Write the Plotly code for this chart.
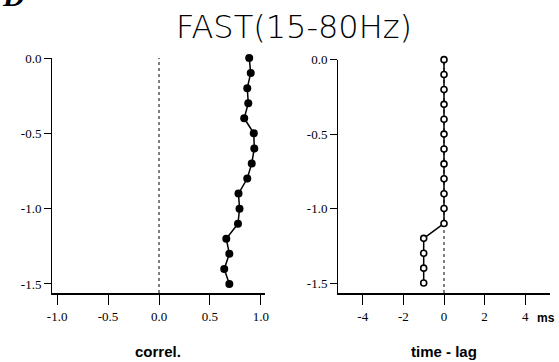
import plotly.graph_objects as go

# ---- data ----
depth = [0.0, -0.1, -0.2, -0.3, -0.4, -0.5, -0.6, -0.7, -0.8, -0.9,
         -1.0, -1.1, -1.2, -1.3, -1.4, -1.5]
correl = [0.885, 0.90, 0.866, 0.876, 0.836, 0.93, 0.935, 0.91, 0.866, 0.78,
          0.79, 0.775, 0.66, 0.69, 0.64, 0.69]
time_lag_ms = [0.0, 0.0, 0.0, 0.0, 0.0, 0.0, 0.0, 0.0, 0.0, 0.0,
               0.0, 0.0, -1.0, -1.0, -1.0, -1.0]

y_tickvals = [0.0, -0.5, -1.0, -1.5]
y_ticktext = ["0.0", "-0.5", "-1.0", "-1.5"]
corr_tickvals = [-1.0, -0.5, 0.0, 0.5, 1.0]
corr_ticktext = ["-1.0", "-0.5", "0.0", "0.5", "1.0"]
lag_tickvals = [-4, -2, 0, 2, 4]
lag_ticktext = ["-4", "-2", "0", "2", "4"]
reference_value = 0.0

title_text = "FAST(15-80Hz)"
panel_label = "D"
corr_label = "correl."
lag_label = "time - lag"
lag_unit = "ms"

# ---- figure ----
fig = go.Figure()

fig.add_trace(go.Scatter(
    x=correl, y=depth, mode="lines+markers",
    line=dict(color="black", width=1.5),
    marker=dict(color="black", size=8, symbol="circle"),
    xaxis="x", yaxis="y", showlegend=False, cliponaxis=False,
))
fig.add_trace(go.Scatter(
    x=time_lag_ms, y=depth, mode="lines+markers",
    line=dict(color="black", width=1.5),
    marker=dict(color="white", size=6, symbol="circle",
                line=dict(color="black", width=1.6)),
    xaxis="x2", yaxis="y2", showlegend=False, cliponaxis=False,
))

for xr, yr in (("x", "y"), ("x2", "y2")):
    fig.add_shape(type="line", xref=xr, yref=yr + " domain",
                  x0=reference_value, x1=reference_value, y0=0, y1=1,
                  line=dict(color="black", width=1, dash="3px,3px"),
                  layer="below")

tick_font = dict(family="Liberation Serif", size=13, color="black")
label_font = dict(family="Liberation Sans", size=15, color="black", weight="bold")

common_x = dict(showgrid=False, zeroline=False, showline=True, linecolor="black",
                linewidth=1.5, ticks="outside", ticklen=10, tickwidth=1.2,
                tickcolor="black", tickfont=tick_font, mirror=False,
                ticklabelstandoff=1, automargin=False)
common_y = dict(showgrid=False, zeroline=False, showline=True, linecolor="black",
                linewidth=1, ticks="outside", ticklen=7, tickwidth=1.2,
                tickcolor="black", tickfont=tick_font, mirror=False,
                automargin=False)

fig.update_layout(
    width=559, height=362,
    margin=dict(l=52, r=9, t=58, b=69, autoexpand=False),
    paper_bgcolor="white", plot_bgcolor="white",
    xaxis=dict(domain=[0, 0.4277], range=[-1.05, 1.04], anchor="y",
               tickvals=corr_tickvals, ticktext=corr_ticktext, **common_x),
    yaxis=dict(domain=[0.0, 1], range=[-1.56, 0.0], anchor="x",
               tickvals=y_tickvals, ticktext=y_ticktext, **common_y),
    xaxis2=dict(domain=[0.5743, 1], range=[-5.22, 5.22], anchor="y2",
                tickvals=lag_tickvals, ticktext=lag_ticktext, **common_x),
    yaxis2=dict(domain=[0, 0.993], range=[-1.567, 0.0], anchor="x2",
                tickvals=y_tickvals, ticktext=y_ticktext, **common_y),
    title=dict(text=title_text, xref="container", yref="container",
               x=294 / 559, y=1 - 27 / 362, xanchor="center", yanchor="middle",
               font=dict(family="DejaVu Sans", size=32, color="black", weight=300)),
)

fig.add_annotation(text=corr_label, xref="x domain", yref="paper", x=0.5, y=-0.25,
                   xanchor="center", yanchor="middle", showarrow=False, font=label_font)
fig.add_annotation(text=lag_label, xref="x2 domain", yref="paper", x=0.5, y=-0.25,
                   xanchor="center", yanchor="middle", showarrow=False, font=label_font)
fig.add_annotation(text=lag_unit, xref="x2", yref="paper", x=4, y=0,
                   xanchor="left", yanchor="top", xshift=10, yshift=-16,
                   showarrow=False,
                   font=dict(family="Liberation Sans", size=12, color="black", weight="bold"))
fig.add_annotation(text=panel_label, xref="paper", yref="paper",
                   x=-0.104, y=1.187, xanchor="left", yanchor="bottom",
                   showarrow=False,
                   font=dict(family="Liberation Serif", size=30, color="black",
                             weight="bold", style="italic"))

fig.write_html("out.html", config={"displayModeBar": False},
               post_script="document.body.style.margin='0px';")
